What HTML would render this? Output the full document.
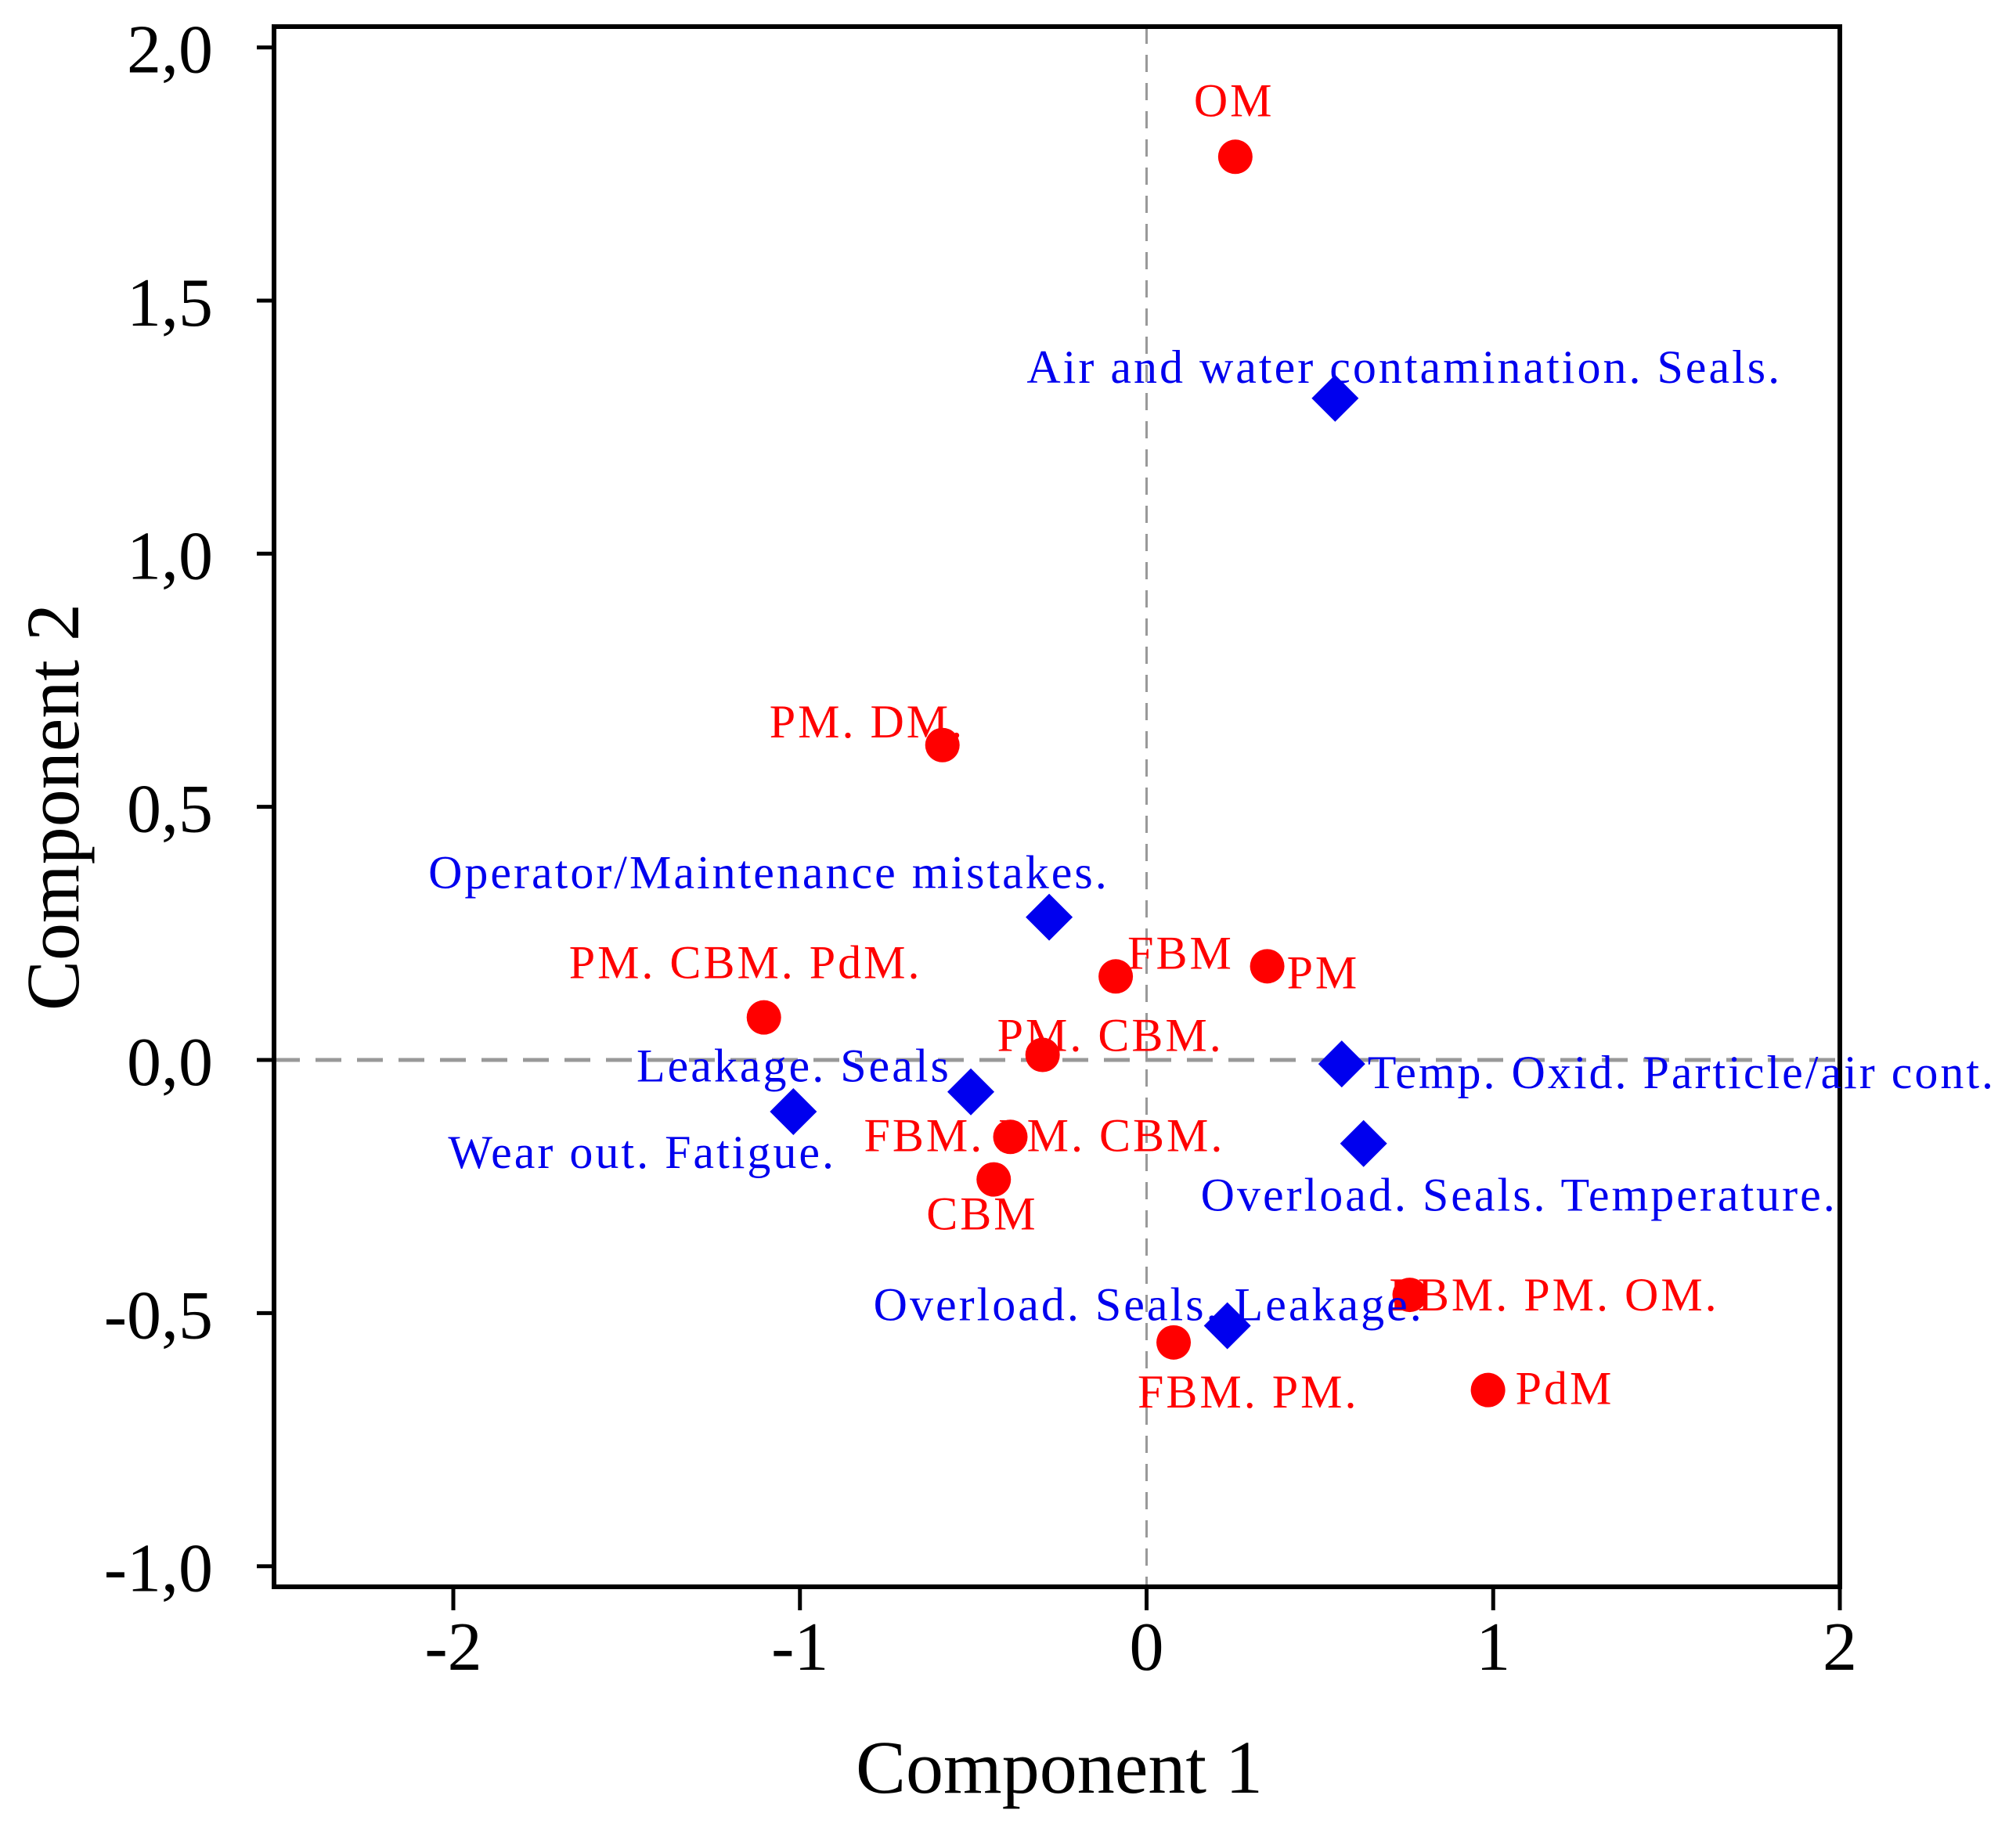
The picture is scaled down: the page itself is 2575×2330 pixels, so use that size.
<!DOCTYPE html>
<html><head><meta charset="utf-8"><style>
html,body{margin:0;padding:0;background:#fff;}
svg{display:block;font-family:"Liberation Serif",serif;}
</style></head><body>
<svg id="chart" width="2575" height="2330" viewBox="0 0 2575 2330"></svg>
<script>
const xTicks=[-2,-1,0,1,2];
const xTickLabels=["-2","-1","0","1","2"];
const yTicks=[-1,-0.5,0,0.5,1,1.5,2];
const yTickLabels=["-1,0","-0,5","0,0","0,5","1,0","1,5","2,0"];
const redLabels=["OM","PM. DM.","FBM","PM","PM. CBM. PdM.","PM. CBM.","FBM. PM. CBM.","CBM","FBM. PM. OM.","FBM. PM.","PdM"];
const redX=[0.256,-0.589,-0.089,0.348,-1.104,-0.30,-0.393,-0.441,0.759,0.078,0.985];
const redY=[1.784,0.622,0.165,0.185,0.084,0.01,-0.152,-0.236,-0.464,-0.558,-0.652];
const blueLabels=["Air and water contamination. Seals.","Operator/Maintenance mistakes.","Temp. Oxid. Particle/air cont.","Leakage. Seals","Wear out. Fatigue.","Overload. Seals. Temperature.","Overload. Seals. Leakage."];
const blueX=[0.544,-0.281,0.563,-0.507,-1.019,0.626,0.233];
const blueY=[1.307,0.282,-0.008,-0.063,-0.102,-0.165,-0.525];
// label offsets (display styling, px relative to marker)
const redOff=[[-53,-52],[-221,-10],[15,-10],[25,28],[-249,-50],[-58,-5],[-187,18],[-86,64],[-26,20],[-46,83],[35,18]];
const blueOff=[[-394,-20],[-793,-37],[33,31],[-427,-13],[-441,72],[-208,86],[-452,-7]];

const L=350,R=2350,T=34,B=2027;
const sx=v=>1464.5+v*442.75;
const sy=v=>1354-v*646.7;
const svg=document.getElementById('chart');
const NS='http://www.w3.org/2000/svg';
function mk(tag,attrs,parent){const e=document.createElementNS(NS,tag);for(const k in attrs)e.setAttribute(k,attrs[k]);(parent||svg).appendChild(e);return e;}

let zl=mk('line',{x1:L,x2:R,y1:sy(0),y2:sy(0),stroke:'#999',"stroke-width":5,"stroke-dasharray":"33 20"});


let zv=mk('line',{x1:sx(0),x2:sx(0),y1:T,y2:B,stroke:'#999',"stroke-width":3,"stroke-dasharray":"22 14"});



let fr=mk('rect',{x:L,y:T,width:R-L,height:B-T,fill:'none',stroke:'#000',"stroke-width":6});



xTicks.forEach((v,i)=>{
  let t=mk('line',{x1:sx(v),x2:sx(v),y1:B,y2:B+30,stroke:'#000',"stroke-width":5});
  
  
  let tx=mk('text',{x:sx(v),y:2133,"text-anchor":"middle","font-size":88,fill:'#000'});
  tx.textContent=xTickLabels[i];
  
  
});
yTicks.forEach((v,i)=>{
  let t=mk('line',{x1:L-22,x2:L,y1:sy(v),y2:sy(v),stroke:'#000',"stroke-width":5});
  
  
  let tx=mk('text',{x:272,y:sy(v)+32,"text-anchor":"end","font-size":88,fill:'#000'});
  tx.textContent=yTickLabels[i];
  
  
});

redX.forEach((v,i)=>{
  const cx=sx(v),cy=sy(redY[i]);
  let c=mk('circle',{cx:cx,cy:cy,r:22,fill:'#ff0000'});
  
  
  let t=mk('text',{x:cx+redOff[i][0],y:cy+redOff[i][1],"font-size":60,"letter-spacing":3,fill:'#ff0000'});
  t.textContent=redLabels[i];
  
  
});
blueX.forEach((v,i)=>{
  const cx=sx(v),cy=sy(blueY[i]),h=30;
  let d=mk('polygon',{points:`${cx},${cy-h} ${cx+h},${cy} ${cx},${cy+h} ${cx-h},${cy}`,fill:'#0000ee'});
  
  
  let t=mk('text',{x:cx+blueOff[i][0],y:cy+blueOff[i][1],"font-size":60,"letter-spacing":3,fill:'#0000ee'});
  t.textContent=blueLabels[i];
  
  
});

let xt=mk('text',{x:1353,y:2290,"text-anchor":"middle","font-size":96,fill:'#000'});
xt.textContent='Component 1';


let yt=mk('text',{x:0,y:0,"text-anchor":"middle","font-size":96,fill:'#000',transform:'translate(100,1031) rotate(-90)'});
yt.textContent='Component 2';


</script>
</body></html>
